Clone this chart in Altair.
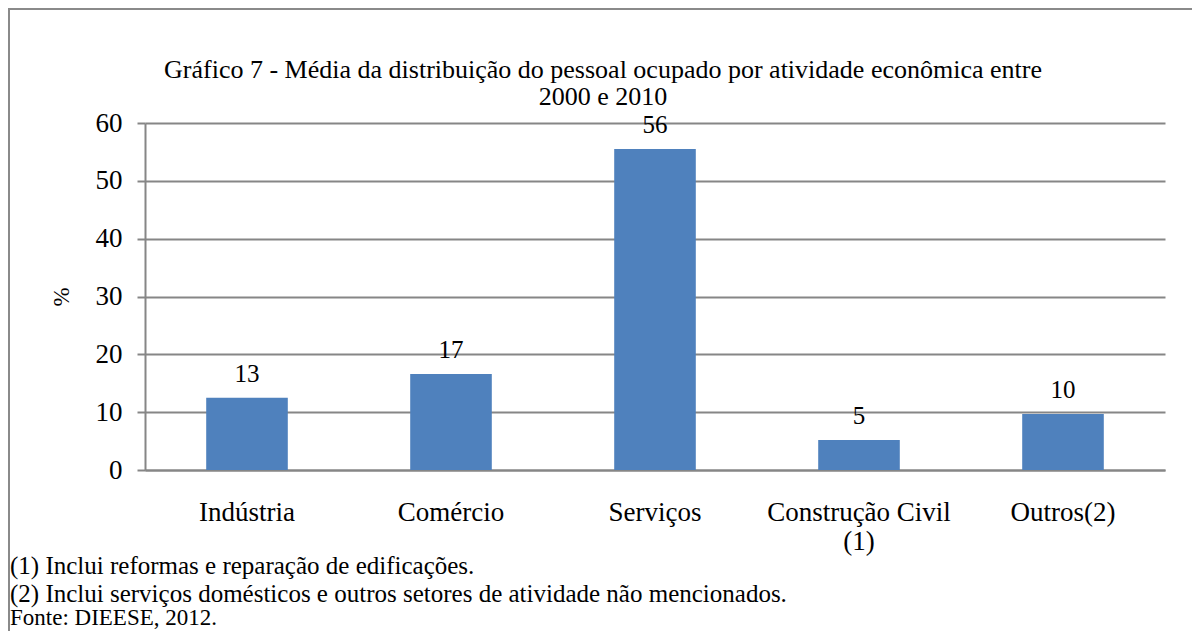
import altair as alt
import pandas as pd

categories = ["Indústria", "Comércio", "Serviços", "Construção Civil|(1)", "Outros(2)"]
values = [12.5, 16.6, 55.5, 5.2, 9.7]
value_labels = ["13", "17", "56", "5", "10"]
y_ticks = [0, 10, 20, 30, 40, 50, 60]
title_lines = [
    "Gráfico 7 - Média da distribuição do pessoal ocupado por atividade econômica entre",
    "2000 e 2010",
]
notes = [
    "(1) Inclui reformas e reparação de edificações.",
    "(2) Inclui serviços domésticos e outros setores de atividade não mencionados.",
    "Fonte: DIEESE, 2012.",
]

df = pd.DataFrame({"cat": categories, "val": values, "lab": value_labels})

FONT = "Liberation Serif"
GRAY = "#868686"
BLUE = "#4F81BD"
W, H = 1020, 347

x_enc = alt.X(
    "cat:N",
    sort=categories,
    title=None,
    scale=alt.Scale(paddingInner=0.6, paddingOuter=0.3),
    axis=alt.Axis(
        labelExpr="split(datum.label, '|')",
        labelAngle=0,
        labelFont=FONT,
        labelFontSize=27,
        labelColor="black",
        labelPadding=29,
        labelLineHeight=29,
        labelLimit=400,
        ticks=False,
        domain=True,
        domainColor=GRAY,
        domainWidth=2,
        grid=False,
    ),
)
y_enc = alt.Y(
    "val:Q",
    title="%",
    scale=alt.Scale(domain=[0, 60], nice=False),
    axis=alt.Axis(
        values=y_ticks,
        labelFont=FONT,
        labelFontSize=27,
        labelColor="black",
        labelPadding=15,
        tickSize=8,
        tickColor=GRAY,
        tickWidth=2,
        domainColor=GRAY,
        domainWidth=2,
        gridColor=GRAY,
        gridWidth=1.8,
        titleFont=FONT,
        titleFontSize=23,
        titleFontWeight="normal",
        titleColor="black",
        titlePadding=22,
    ),
)

base = alt.Chart(df)
bars = base.mark_bar(color=BLUE).encode(x=x_enc, y=y_enc)
texts = base.mark_text(
    font=FONT, fontSize=25, color="black", baseline="alphabetic", dy=-16
).encode(x=alt.X("cat:N", sort=categories), y="val:Q", text="lab:N")

one = pd.DataFrame({"k": [0]})
ann = []
title_y = [-53, -26]
for i, line in enumerate(title_lines):
    ann.append(
        alt.Chart(one).mark_text(font=FONT, fontSize=26, color="black", align="center", baseline="middle")
        .encode(x=alt.value(458), y=alt.value(title_y[i]), text=alt.value(line))
    )
note_sizes = [25, 25, 23]
note_y = [443, 471, 495]
for i, note in enumerate(notes):
    ann.append(
        alt.Chart(one).mark_text(font=FONT, fontSize=note_sizes[i], color="black", align="left", baseline="middle")
        .encode(x=alt.value(-135), y=alt.value(note_y[i]), text=alt.value(note))
    )
# outer frame (top and left edges)
ann.append(
    alt.Chart(one).mark_rule(color="#8a8a8a", strokeWidth=2)
    .encode(x=alt.value(-137), x2=alt.value(1100), y=alt.value(-114))
)
ann.append(
    alt.Chart(one).mark_rule(color="#8a8a8a", strokeWidth=2)
    .encode(x=alt.value(-136), y=alt.value(-115), y2=alt.value(600))
)

chart = alt.layer(bars, texts, *ann).properties(
    width=W,
    height=H,
    autosize=alt.AutoSizeParams(type="none"),
    padding={"left": 137, "top": 115, "right": 27, "bottom": 161},
).configure_view(stroke=None)

chart.save("out.html", embed_options={"renderer": "svg", "actions": False})
